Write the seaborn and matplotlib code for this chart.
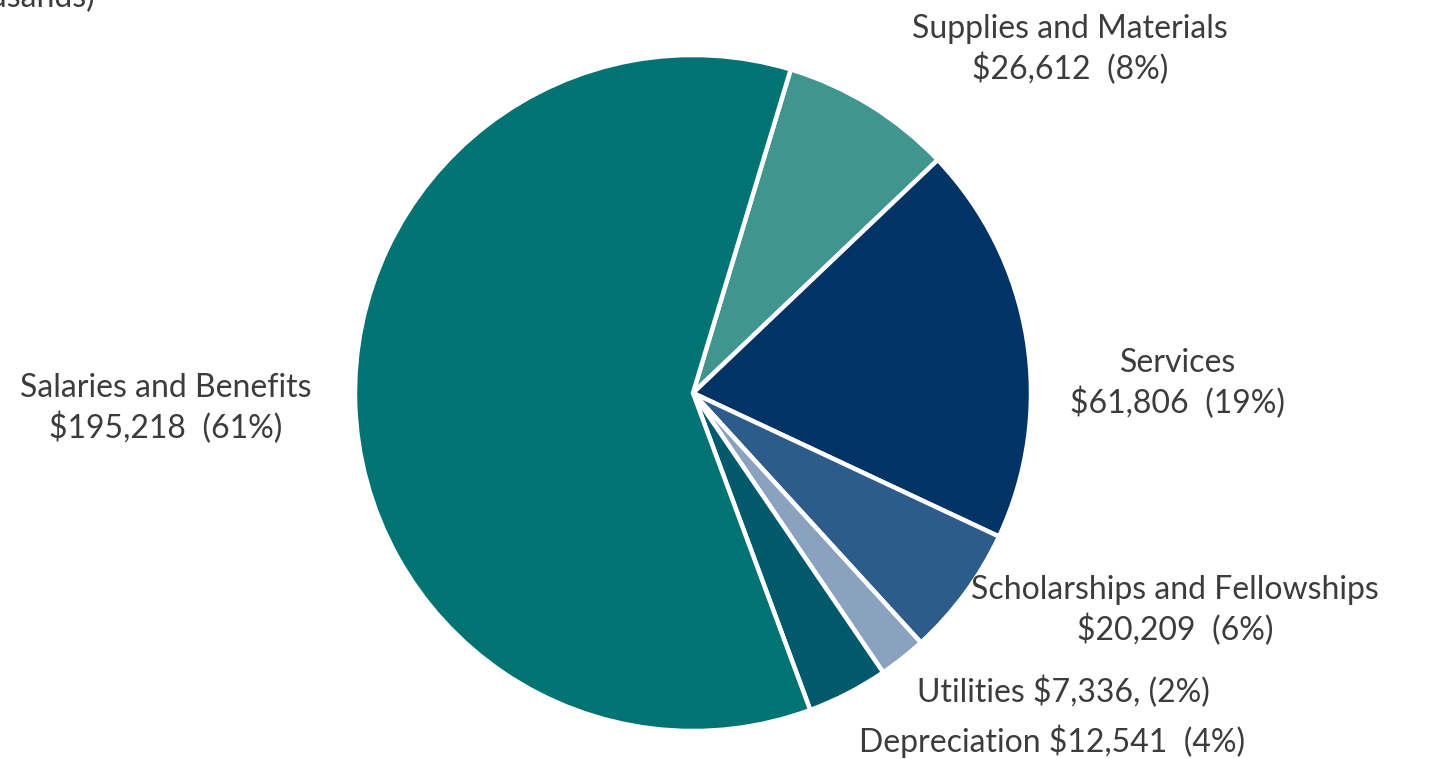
import matplotlib
matplotlib.use("Agg")
import matplotlib.pyplot as plt
import seaborn as sns

# Data (in thousands)
categories = ['Supplies and Materials', 'Services', 'Scholarships and Fellowships',
              'Utilities', 'Depreciation', 'Salaries and Benefits']
amounts = [26612, 61806, 20209, 7336, 12541, 195218]
label_lines = [
    "Supplies and Materials\n$26,612  (8%)",
    "Services\n$61,806  (19%)",
    "Scholarships and Fellowships\n$20,209  (6%)",
    "Utilities $7,336, (2%)",
    "Depreciation $12,541  (4%)",
    "Salaries and Benefits\n$195,218  (61%)",
]
colors = ['#40958F', '#003366', '#2E5C8A', '#8BA2BE', '#005A6B', '#007372']

sns.set_theme(style="white")
plt.rcParams['font.family'] = ['Lato', 'DejaVu Sans']

W, H = 1445, 759
fig = plt.figure(figsize=(W / 100, H / 100), dpi=100)

# pie centre and radius in pixels
cx, cy, r = 693, 393, 338
ax = fig.add_axes([(cx - r) / W, (H - cy - r) / H, 2 * r / W, 2 * r / H])
ax.pie(amounts, colors=colors, startangle=73.2, counterclock=False,
       wedgeprops=dict(edgecolor='white', linewidth=3.2))
ax.set_xlim(-1, 1)
ax.set_ylim(-1, 1)
ax.set_aspect('equal')
ax.axis('off')

# label positions (pixel centres)
label_pos = [(1070, 50), (1178, 384), (1175, 611), (1063, 692), (1052, 741), (166, 409)]
for text, (px, py) in zip(label_lines, label_pos):
    fig.text(px / W, 1 - py / H, text, ha='center', va='center',
             fontsize=23, color='#3c3c3c', linespacing=1.33)

# clipped title remnant at top-left
fig.text(95 / W, 1 - 7 / H, "(in thousands)", ha='right', va='baseline',
         fontsize=23, color='#3c3c3c')

fig.savefig("out.png", dpi=100, facecolor='white')
